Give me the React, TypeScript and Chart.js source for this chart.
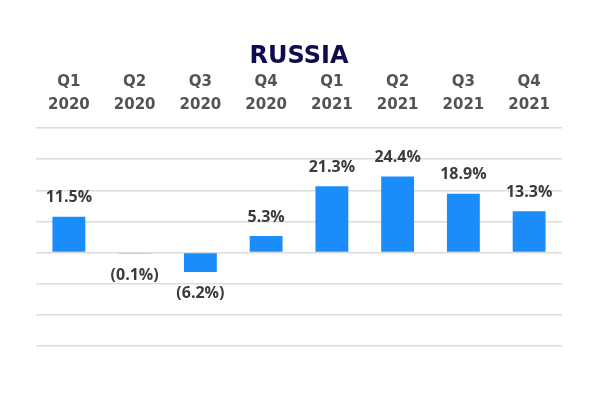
import React, { useEffect, useRef } from "react";
import { Chart, registerables } from "chart.js";

Chart.register(...registerables);

const TITLE = "RUSSIA";
const QUARTERS = ["Q1", "Q2", "Q3", "Q4", "Q1", "Q2", "Q3", "Q4"];
const YEARS = ["2020", "2020", "2020", "2020", "2021", "2021", "2021", "2021"];
const GROWTH = [11.5, -0.1, -6.2, 5.3, 21.3, 24.4, 18.9, 13.3];
const Y_MIN = -30;
const Y_MAX = 40;
const Y_STEP = 10;

const fmt = (v: number) => (v < 0 ? `(${Math.abs(v).toFixed(1)}%)` : `${v.toFixed(1)}%`);

const valueLabels = {
  id: "valueLabels",
  afterDatasetsDraw(chart: any) {
    const ctx = chart.ctx;
    const meta = chart.getDatasetMeta(0);
    const data = chart.data.datasets[0].data as number[];
    ctx.save();
    ctx.font = "bold 16px 'Open Sans', sans-serif";
    ctx.fillStyle = "#3b3b3b";
    ctx.textAlign = "center";
    ctx.textBaseline = "middle";
    meta.data.forEach((el: any, i: number) => {
      const v = data[i];
      const y = v >= 0 ? Math.min(el.y, el.base) - 19 : Math.max(el.y, el.base) + 22;
      ctx.fillText(fmt(v), el.x, y);
    });
    ctx.restore();
  },
};

export default function App() {
  const ref = useRef<HTMLCanvasElement | null>(null);
  useEffect(() => {
    if (!ref.current) return;
    const chart = new Chart(ref.current, {
      type: "bar",
      data: {
        labels: QUARTERS.map((q, i) => [q, YEARS[i]]),
        datasets: [
          {
            data: GROWTH,
            backgroundColor: "#1a8cfc",
            barPercentage: 0.5,
            categoryPercentage: 1,
          },
        ],
      },
      options: {
        animation: false,
        responsive: false,
        maintainAspectRatio: false,
        layout: { padding: { left: 36, right: 43, top: 0, bottom: 50 } },
        plugins: {
          legend: { display: false },
          tooltip: { enabled: false },
          title: {
            display: true,
            text: TITLE,
            color: "#0e0b4f",
            font: { family: "'DejaVu Sans', sans-serif", size: 24, weight: "bold", lineHeight: 1 },
            padding: { top: 45, bottom: -9 },
          },
        },
        scales: {
          x: {
            position: "top",
            grid: { display: false, drawTicks: false },
            border: { display: false },
            ticks: {
              color: "#555252",
              font: { family: "'DejaVu Sans', sans-serif", size: 15, weight: "bold", lineHeight: 23 / 15 },
              padding: 11,
              maxRotation: 0,
            },
          },
          y: {
            min: Y_MIN,
            max: Y_MAX,
            ticks: { display: false, stepSize: Y_STEP },
            grid: { color: "#dcdcdc", lineWidth: 1.5, drawTicks: false },
            border: { display: false },
          },
        },
      },
      plugins: [valueLabels],
    });
    return () => chart.destroy();
  }, []);
  return (
    <div style={{ position: "fixed", left: 0, top: 0, width: 605, height: 396, background: "#fff" }}>
      <canvas ref={ref} width={605} height={396} />
    </div>
  );
}
